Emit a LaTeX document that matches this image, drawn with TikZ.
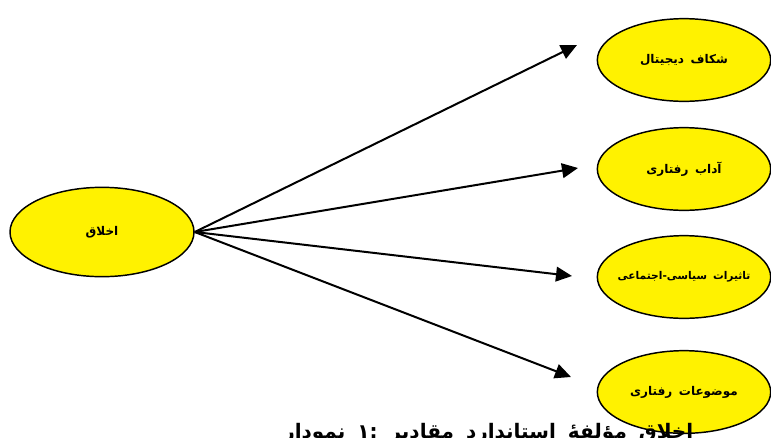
\documentclass[tikz,border=0pt]{standalone}
\usepackage{fontspec}
\setmainfont{DejaVu Sans}
\newfontfamily\arabicfont[Script=Arabic]{DejaVu Sans}
\TeXXeTstate=1
\usetikzlibrary{arrows.meta,shapes.geometric}
\newcommand\wordgap[1]{\spaceskip=#1\relax}

\begin{document}
\begin{tikzpicture}[x=0.75pt,y=-0.75pt,>={Triangle[length=12pt,width=11pt]},
    root node/.style={ellipse,draw,fill=yellow,line width=1.1pt,minimum width=138pt,minimum height=67pt,font=\arabicfont\bfseries\fontsize{9}{11}\selectfont},
    leaf node/.style={ellipse,draw,fill=yellow,line width=1.1pt,minimum width=130pt,minimum height=62pt,inner sep=0pt},
    leaf text/.style={font=\arabicfont\bfseries\fontsize{9}{11}\selectfont\wordgap{5pt}},
    link/.style={->,line width=1.5pt}]

  \useasboundingbox (0,0) rectangle (771,437);

  \node[root node] (ethics) at (102,232) {\beginR اخلاق\endR};
  \node[leaf node,label={[leaf text]center:\beginR شکاف دیجیتال\endR}] (gap) at (684,60) {};
  \node[leaf node,label={[leaf text]center:\beginR آداب رفتاری\endR}] (manner) at (684,169) {};
  \node[leaf node,label={[leaf text,font=\arabicfont\bfseries\fontsize{8}{10}\selectfont\wordgap{4.5pt}]center:\beginR تاثیرات سیاسی-اجتماعی\endR}] (impact) at (684,277) {};
  \node[leaf node,label={[leaf text]center:\beginR موضوعات رفتاری\endR}] (topic) at (684,392) {};

  \coordinate (gap tip)    at (577,45);
  \coordinate (manner tip) at (578,168);
  \coordinate (impact tip) at (572,276);
  \coordinate (topic tip)  at (571,377);

  \path (ethics.east) edge[link] (gap tip)
        (ethics.east) edge[link] (manner tip)
        (ethics.east) edge[link] (impact tip)
        (ethics.east) edge[link] (topic tip);

  % caption, cut by the lower edge
  \node[anchor=base west,inner sep=0pt,font=\arabicfont\bfseries\fontsize{15}{17}\selectfont\wordgap{9pt}] (caption) at (283,438)
    {\beginR اخلاق مؤلفهٔ استاندارد مقادیر :۱ نمودار\endR};

\end{tikzpicture}
\end{document}
